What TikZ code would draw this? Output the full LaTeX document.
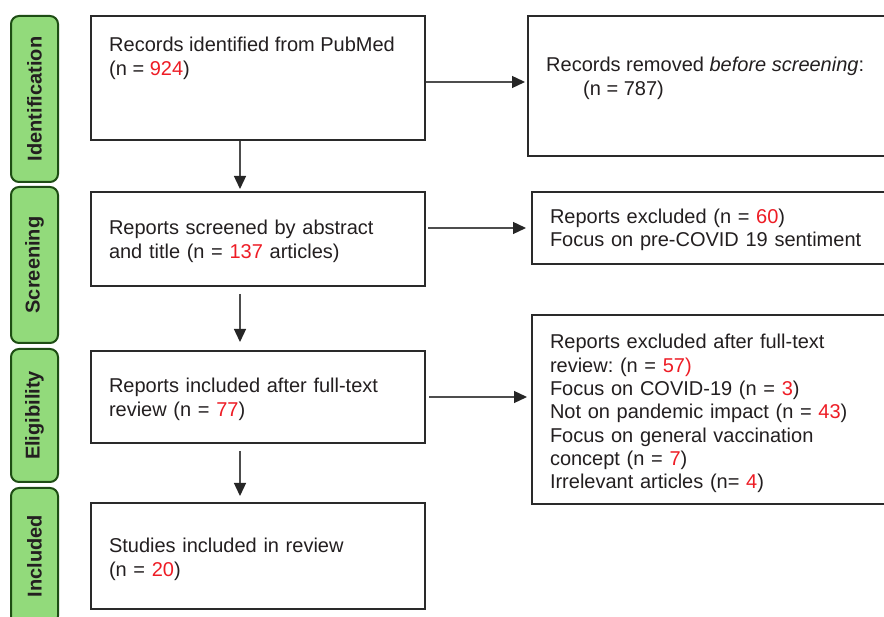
\documentclass[tikz,border=0pt]{standalone}
\usepackage{fontspec}
\setmainfont{Liberation Sans}
\usetikzlibrary{arrows.meta}
\definecolor{txt}{HTML}{231F20}
\definecolor{nred}{HTML}{EE1C25}
\definecolor{pfill}{HTML}{92DA7B}
\definecolor{pdraw}{HTML}{1E4D14}
\definecolor{boxc}{HTML}{2A2A2A}
\definecolor{arrc}{HTML}{4D4D4D}
\newcommand{\rn}[1]{\textcolor{nred}{#1}}
\newcommand{\lift}[1]{\rule{0pt}{#1pt}}
\frenchspacing
\begin{document}
\begin{tikzpicture}[x=1pt,y=-1pt,
 phase/.style={draw=pdraw, fill=pfill, line width=2pt, rounded corners=8pt, rotate=90,
   minimum height=47pt, inner sep=0pt, font=\fontsize{20}{24}\selectfont\bfseries, text=txt},
 box/.style={draw=boxc, line width=2pt, inner xsep=18pt, inner ysep=0pt, text width=298pt,
   align=left, font=\fontsize{20}{24}\selectfont\frenchspacing, text=txt},
 rbox/.style={box, text width=360pt, font=\fontsize{20}{23.3}\selectfont\frenchspacing, anchor=west},
 conn/.style={draw=arrc, line width=1.3pt, -{Triangle[length=13pt,width=12pt,color=black!85,fill=black!85]}},
 lbl/.style={inner sep=0pt, align=left, font=\fontsize{20}{24}\selectfont\frenchspacing, text=txt}
]
\useasboundingbox (0,0) rectangle (884,617);
\clip (0,0) rectangle (884,617);
\fill[white] (0,0) rectangle (884,617);

% phase bars
\node[phase, minimum width=166pt] (p1) at (34.5,99) {Identification};
\node[phase, minimum width=156pt] (p2) at (34.5,265) {Screening};
\node[phase, minimum width=133pt] (p3) at (34.5,415.5) {Eligibility};
\node[phase, minimum width=136pt] (p4) at (34.5,556) {Included};

% left boxes
\node[box, minimum height=124pt] (b1) at (258,78) {};
\node[lbl, anchor=north west] (t1) at (109,36.5) {Records identified from PubMed\\(n = \rn{924})};
\node[box, minimum height=94pt] (b2) at (258,239) {\lift{18.6}Reports screened by abstract\\and title (n = \rn{137} articles)};
\node[box, minimum height=92pt] (b3) at (258,397) {\lift{18.6}Reports included after full-text\\review (n = \rn{77})};
\node[box, minimum height=106pt] (b4) at (258,556) {\lift{20.6}Studies included in review\\(n = \rn{20})};

% right boxes
\node[draw=boxc, line width=2pt, minimum width=400pt, minimum height=140pt, anchor=west] (r1) at (527,86) {};
\node[lbl, anchor=north west] (t2) at (546,56.5) {Records removed \textit{before screening}:\\\hspace*{37pt}(n = 787)};
\node[rbox, minimum height=72pt] (r2) at (531,228) {\lift{18.6}Reports excluded (n = \rn{60})\\Focus on pre-COVID 19 sentiment};
\node[rbox, minimum height=189pt] (r3) at (531,409.5) {\lift{22.6}Reports excluded after full-text\\review: (n = \rn{57)}\\Focus on COVID-19 (n = \rn{3})\\Not on pandemic impact (n = \rn{43})\\Focus on general vaccination\\concept (n = \rn{7})\\Irrelevant articles (n= \rn{4})};

% connectors
\draw[conn, shorten >=2pt] ([yshift=-4pt]b1.east) -- ([yshift=-4pt]b1.east -| r1.west);
\draw[conn, shorten >=5pt, shorten <=2pt] (b2.east |- r2.west) -- (r2.west);
\draw[conn, shorten >=4pt, shorten <=3pt] (b3.east) -- (b3.east -| r3.west);

\draw[conn, shorten >=2pt] ([xshift=-18pt]b1.south) -- ([xshift=-18pt]b1.south |- b2.north);
\draw[conn, shorten <=7pt, shorten >=8pt] ([xshift=-18pt]b2.south) -- ([xshift=-18pt]b2.south |- b3.north);
\draw[conn, shorten <=7pt, shorten >=6pt] ([xshift=-18pt]b3.south) -- ([xshift=-18pt]b3.south |- b4.north);
\end{tikzpicture}
\end{document}
